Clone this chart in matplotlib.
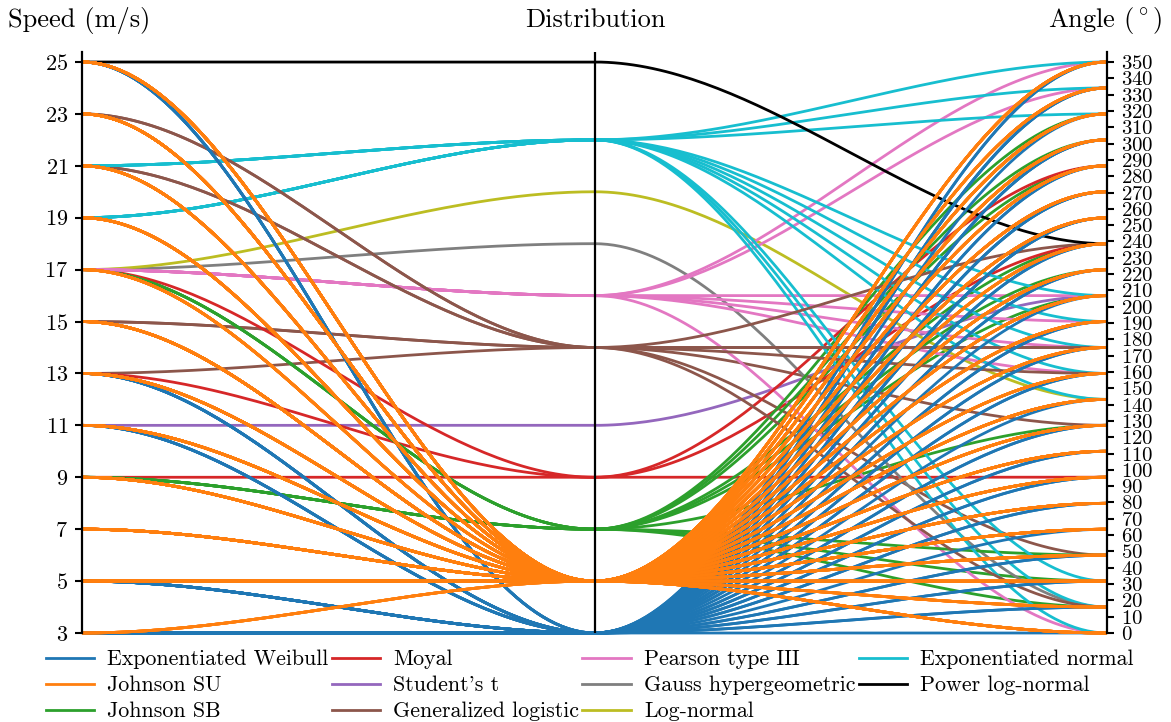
import numpy as np
import matplotlib
matplotlib.use("Agg")
import matplotlib.pyplot as plt
from matplotlib.lines import Line2D

plt.rcParams['font.family'] = ['cmr10', 'DejaVu Serif']
plt.rcParams['mathtext.fontset'] = 'cm'
plt.rcParams['axes.unicode_minus'] = False
plt.rcParams['axes.formatter.use_mathtext'] = True

# ---------------- data ----------------
SPEEDS = [3, 5, 7, 9, 11, 13, 15, 17, 19, 21, 23, 25]
ANGLE_BINS = [0.0, 15.9, 31.8, 47.7, 63.6, 79.5, 95.5, 111.4, 127.3, 143.2, 159.1,
              175.0, 190.9, 206.8, 222.7, 238.6, 254.5, 270.5, 286.4, 302.3,
              318.2, 334.1, 350.0]
DISTRIBUTIONS = ["Exponentiated Weibull", "Johnson SU", "Johnson SB", "Moyal",
                 "Student's t", "Generalized logistic", "Pearson type III",
                 "Gauss hypergeometric", "Log-normal", "Exponentiated normal",
                 "Power log-normal"]
DIST_CODES = "WUBMTGPHLNK"
# level of each distribution on the middle axis (in speed units)
DIST_LEVEL = [3, 5, 7, 9, 11, 14, 16, 18, 20, 22, 25]
DIST_COLORS = ["#1f77b4", "#ff7f0e", "#2ca02c", "#d62728", "#9467bd",
               "#8c564b", "#e377c2", "#7f7f7f", "#bcbd22", "#17becf", "#000000"]
# best-fit distribution code for each (speed, angle bin); one row per speed
BEST_FIT = [
    "UWWWU WWWWU WWWUW WWWWW UWW",   # 3
    "WWUWU WUUWU UWWUU WUWUW UWU",   # 5
    "UUUUU UUUUU UUUUU UUUUU UUU",   # 7
    "UBBUU UMUBU UUUBU BUUBU UUU",   # 9
    "UUWUU UWUUU WUUTU UWUUU UUW",   # 11
    "UUUUW UUWUW UGUUW MUUWU WUU",   # 13
    "UUUGU UUUGU UUUUU UUUUU UUU",   # 15
    "PHUBU UUUUL PPPPB UUUMB BPP",   # 17
    "NNNUU UUUUN NNUUU UUUUU UUU",   # 19
    "UGUUU UUUUU GUNNU UUUUU NNN",   # 21
    "UUUUU UUUUU UGUUU GUUUU UUU",   # 23
    "UUUUU UUUUU UUUWU KWWUW UWU",   # 25
]
SPEED_TICKS = list(range(3, 26, 2))
ANGLE_TICKS = list(range(0, 351, 10))

# ---------------- figure ----------------
W, H = 1171, 722
fig = plt.figure(figsize=(W / 100, H / 100), dpi=100)
ax = fig.add_axes([82 / W, 1 - 633 / H, (1107 - 82) / W, (633 - 52) / H])
s_lo, s_hi = 3, 25
a_lo, a_hi = 0, 350
ext = (633 - 52) / (633 - 62)
ax.set_xlim(0, 2)
ax.set_ylim(s_lo, s_lo + (s_hi - s_lo) * ext)
ax2 = ax.twinx()
ax2.set_ylim(a_lo, a_lo + (a_hi - a_lo) * ext)


def angle_to_speed_units(a):
    return s_lo + (a - a_lo) / (a_hi - a_lo) * (s_hi - s_lo)


t = np.linspace(0, 1, 80)
ease = 3 * t ** 2 - 2 * t ** 3

records = []
for si, row in enumerate(BEST_FIT):
    row = row.replace(" ", "")
    assert len(row) == len(ANGLE_BINS)
    for ai, code in enumerate(row):
        records.append((SPEEDS[si], DIST_CODES.index(code), ANGLE_BINS[ai]))


# draw order: rare distributions first, then Exp. Weibull, then Johnson SU
def order_key(r):
    d = r[1]
    return 2 if d == 1 else (1 if d == 0 else 0)


for sp, d, ang in sorted(records, key=order_key):
    mid = DIST_LEVEL[d]
    ya = angle_to_speed_units(ang)
    xs = np.concatenate([t, 1 + t])
    ys = np.concatenate([sp + (mid - sp) * ease, mid + (ya - mid) * ease])
    ax.plot(xs, ys, color=DIST_COLORS[d], lw=2.0, clip_on=False,
            solid_capstyle='butt', zorder=2)

ax.axvline(1, color='black', lw=1.6, zorder=3)

for a in (ax, ax2):
    for side in ('top', 'bottom'):
        a.spines[side].set_visible(False)
ax.spines['right'].set_visible(False)
ax2.spines['left'].set_visible(False)
ax.spines['left'].set_linewidth(1.6)
ax2.spines['right'].set_linewidth(1.6)
ax.set_xticks([])
ax.set_yticks(SPEED_TICKS)
ax2.set_yticks(ANGLE_TICKS)
ax.tick_params(axis='y', length=5, width=1.5, labelsize=16, pad=5)
ax2.tick_params(axis='y', length=5, width=1.5, labelsize=15, pad=5)

fig.text(8 / W, 1 - 20 / H, "Speed (m/s)", ha='left', va='center', fontsize=19)
fig.text(595 / W, 1 - 20 / H, "Distribution", ha='center', va='center', fontsize=19)
fig.text(1162 / W, 1 - 20 / H, r"Angle $(^\circ)$", ha='right', va='center', fontsize=19)

handles = [Line2D([0], [0], color=c, lw=2.0) for c in DIST_COLORS]
fig.legend(handles, DISTRIBUTIONS, ncol=4, loc='upper left',
           bbox_to_anchor=(26 / W, 1 - 630 / H), frameon=False, fontsize=15.8,
           handlelength=2.2, handletextpad=0.6, columnspacing=0.15,
           labelspacing=0.3, borderpad=0.4)

fig.savefig("out.png", dpi=100)
